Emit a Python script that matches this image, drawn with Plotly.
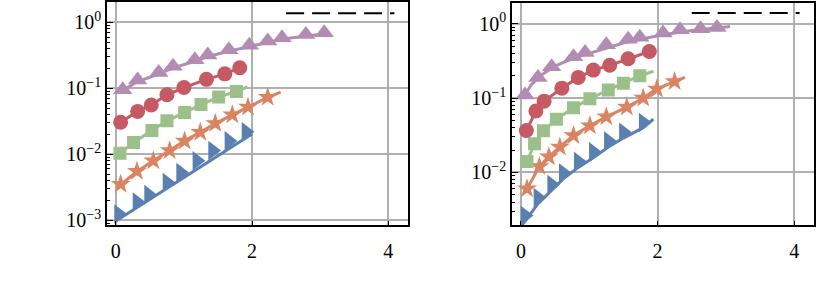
import plotly.graph_objects as go

# ---------------- data ----------------
# Left panel
L_blue_line_x = [0.0, 0.5, 1.0, 1.5, 2.0]
L_blue_line_y = [0.00098, 0.00209, 0.00447, 0.00955, 0.0204]
L_blue_x = [0.04, 0.31, 0.48, 0.75, 0.95, 1.19, 1.42, 1.66, 1.91]
L_blue_y = [0.00125, 0.00189, 0.00245, 0.00375, 0.0053, 0.0080, 0.0114, 0.0160, 0.0220]

L_orange_line_x = [0.06, 0.31, 0.55, 0.79, 1.01, 1.24, 1.46, 1.71, 1.94, 2.23, 2.42]
L_orange_line_y = [0.0034, 0.0055, 0.0080, 0.0114, 0.0160, 0.0217, 0.0295, 0.0397, 0.0521, 0.0733, 0.088]
L_orange_x = [0.07, 0.31, 0.55, 0.79, 1.01, 1.24, 1.46, 1.71, 1.94, 2.23]
L_orange_y = [0.00353, 0.00556, 0.0080, 0.0114, 0.0160, 0.0217, 0.0295, 0.0397, 0.0521, 0.0733]

L_green_line_x = [0.06, 0.26, 0.53, 0.75, 1.01, 1.25, 1.51, 1.77, 1.93]
L_green_line_y = [0.0104, 0.0151, 0.023, 0.0323, 0.043, 0.057, 0.074, 0.090, 0.105]
L_green_x = [0.06, 0.26, 0.53, 0.75, 1.01, 1.25, 1.51, 1.77]
L_green_y = [0.0104, 0.0151, 0.023, 0.0323, 0.043, 0.057, 0.074, 0.090]

L_red_line_x = [0.07, 0.32, 0.52, 0.75, 1.00, 1.33, 1.60, 1.82, 1.90]
L_red_line_y = [0.0306, 0.0448, 0.056, 0.080, 0.103, 0.137, 0.166, 0.206, 0.222]
L_red_x = [0.07, 0.32, 0.52, 0.75, 1.00, 1.33, 1.60, 1.82]
L_red_y = [0.0306, 0.0448, 0.056, 0.080, 0.103, 0.137, 0.166, 0.206]

L_purple_line_x = [0.08, 0.32, 0.63, 0.84, 1.16, 1.35, 1.66, 1.96, 2.23, 2.44, 2.79, 3.12]
L_purple_line_y = [0.090, 0.127, 0.165, 0.205, 0.258, 0.305, 0.366, 0.43, 0.497, 0.557, 0.625, 0.68]
L_purple_x = [0.10, 0.32, 0.63, 0.84, 1.16, 1.35, 1.66, 1.96, 2.23, 2.44, 2.79, 3.06]
L_purple_y = [0.095, 0.134, 0.174, 0.216, 0.271, 0.321, 0.385, 0.452, 0.523, 0.586, 0.657, 0.695]

L_dash_x = [2.50, 4.09]
L_dash_y = [1.38, 1.38]

# Right panel
R_blue_line_x = [0.0, 0.06, 0.25, 0.45, 0.62, 0.84, 1.06, 1.28, 1.50, 1.79, 1.94]
R_blue_line_y = [0.0019, 0.0022, 0.0038, 0.0057, 0.0082, 0.0117, 0.0158, 0.022, 0.029, 0.040, 0.052]
R_blue_x = [0.06, 0.25, 0.45, 0.62, 0.84, 1.06, 1.28, 1.50, 1.79]
R_blue_y = [0.00263, 0.00458, 0.00689, 0.0098, 0.0140, 0.0189, 0.0264, 0.0347, 0.047]

R_orange_line_x = [0.05, 0.09, 0.27, 0.41, 0.57, 0.77, 1.01, 1.25, 1.55, 1.79, 1.99, 2.25, 2.40]
R_orange_line_y = [0.0055, 0.0060, 0.0120, 0.0163, 0.0220, 0.0314, 0.0426, 0.056, 0.0757, 0.100, 0.133, 0.167, 0.190]
R_orange_x = [0.09, 0.27, 0.41, 0.57, 0.77, 1.01, 1.25, 1.55, 1.79, 1.99, 2.25]
R_orange_y = [0.00603, 0.0120, 0.0163, 0.0220, 0.0314, 0.0426, 0.056, 0.0757, 0.100, 0.133, 0.167]

R_green_line_x = [0.09, 0.20, 0.33, 0.52, 0.77, 1.01, 1.28, 1.50, 1.74, 1.94]
R_green_line_y = [0.0140, 0.0243, 0.0365, 0.052, 0.074, 0.098, 0.129, 0.158, 0.200, 0.230]
R_green_x = [0.09, 0.20, 0.33, 0.52, 0.77, 1.01, 1.28, 1.50, 1.74]
R_green_y = [0.0140, 0.0243, 0.0365, 0.052, 0.074, 0.098, 0.129, 0.158, 0.200]

R_red_line_x = [0.08, 0.22, 0.34, 0.60, 0.84, 1.06, 1.30, 1.57, 1.88]
R_red_line_y = [0.0366, 0.067, 0.091, 0.136, 0.190, 0.238, 0.276, 0.338, 0.423]
R_red_x = [0.08, 0.22, 0.34, 0.60, 0.84, 1.06, 1.30, 1.57, 1.88]
R_red_y = [0.0366, 0.067, 0.091, 0.136, 0.190, 0.238, 0.276, 0.338, 0.423]

R_purple_line_x = [0.03, 0.15, 0.30, 0.50, 0.77, 1.00, 1.25, 1.50, 1.75, 2.08, 2.50, 3.06]
R_purple_line_y = [0.100, 0.150, 0.205, 0.270, 0.345, 0.40, 0.47, 0.55, 0.62, 0.71, 0.81, 0.92]
R_purple_x = [0.06, 0.25, 0.45, 0.77, 0.94, 1.25, 1.57, 1.74, 2.08, 2.33, 2.63, 2.87]
R_purple_y = [0.11, 0.19, 0.265, 0.36, 0.41, 0.52, 0.62, 0.66, 0.75, 0.83, 0.86, 0.89]

R_dash_x = [2.50, 4.08]
R_dash_y = [1.40, 1.40]

x_ticks = [0, 2, 4]
x_ticktext = ["0", "2", "4"]
L_y_ticks = [1e-3, 1e-2, 1e-1, 1e0]
L_y_ticktext = ["10<sup>−3</sup>", "10<sup>−2</sup>", "10<sup>−1</sup>", "10<sup>0</sup>"]
R_y_ticks = [1e-2, 1e-1, 1e0]
R_y_ticktext = ["10<sup>−2</sup>", "10<sup>−1</sup>", "10<sup>0</sup>"]

# ---------------- styling ----------------
C_BLUE = "#5a80b2"
C_ORANGE = "#da8462"
C_GREEN = "#9cc08a"
C_RED = "#c55a64"
C_PURPLE = "#b28cb2"
FONT = "Liberation Serif"

fig = go.Figure()

def add_series(lx, ly, mx, my, color, symbol, size, xa, ya):
    fig.add_trace(go.Scatter(x=lx, y=ly, mode="lines", line=dict(color=color, width=3),
                             xaxis=xa, yaxis=ya, showlegend=False, hoverinfo="skip"))
    fig.add_trace(go.Scatter(x=mx, y=my, mode="markers",
                             marker=dict(color=color, symbol=symbol, size=size, line=dict(width=0)),
                             xaxis=xa, yaxis=ya, showlegend=False))

panels = [
    ("x", "y", [
        (L_blue_line_x, L_blue_line_y, L_blue_x, L_blue_y, C_BLUE, "triangle-right", 17),
        (L_orange_line_x, L_orange_line_y, L_orange_x, L_orange_y, C_ORANGE, "star", 15),
        (L_green_line_x, L_green_line_y, L_green_x, L_green_y, C_GREEN, "square", 13),
        (L_red_line_x, L_red_line_y, L_red_x, L_red_y, C_RED, "circle", 15),
        (L_purple_line_x, L_purple_line_y, L_purple_x, L_purple_y, C_PURPLE, "triangle-up", 17),
    ], L_dash_x, L_dash_y),
    ("x2", "y2", [
        (R_blue_line_x, R_blue_line_y, R_blue_x, R_blue_y, C_BLUE, "triangle-right", 17),
        (R_orange_line_x, R_orange_line_y, R_orange_x, R_orange_y, C_ORANGE, "star", 15),
        (R_green_line_x, R_green_line_y, R_green_x, R_green_y, C_GREEN, "square", 13),
        (R_red_line_x, R_red_line_y, R_red_x, R_red_y, C_RED, "circle", 15),
        (R_purple_line_x, R_purple_line_y, R_purple_x, R_purple_y, C_PURPLE, "triangle-up", 17),
    ], R_dash_x, R_dash_y),
]

for xa, ya, series, dx, dy in panels:
    for s in series:
        add_series(*s, xa, ya)
    fig.add_trace(go.Scatter(x=dx, y=dy, mode="lines",
                             line=dict(color="black", width=2, dash="18px,8px"),
                             xaxis=xa, yaxis=ya, showlegend=False))

minor_vals = [m * 10.0 ** e for e in range(-4, 2) for m in range(2, 10)]

common_x = dict(range=[-0.13, 4.29], tickmode="array", tickvals=x_ticks, ticktext=x_ticktext,
                showgrid=True, gridcolor="#b0b0b0", gridwidth=1.5, zeroline=False,
                showline=True, linecolor="black", linewidth=1.6, mirror=True,
                ticks="inside", ticklen=4, tickcolor="black", tickwidth=1,
                ticklabelstandoff=7,
                tickfont=dict(family=FONT, size=20, color="black"))
common_y = dict(type="log", showgrid=True, gridcolor="#b0b0b0", gridwidth=1.5, zeroline=False,
                showline=True, linecolor="black", linewidth=1.6, mirror=True,
                ticks="inside", ticklen=6, tickcolor="black", tickwidth=1,
                tickfont=dict(family=FONT, size=20, color="black"),
                minor=dict(tickmode="array", tickvals=minor_vals, ticks="inside", ticklen=3.5,
                           tickcolor="black", tickwidth=1, showgrid=False))

fig.update_layout(
    width=822, height=289,
    margin=dict(l=0, r=0, t=0, b=0),
    paper_bgcolor="white", plot_bgcolor="white",
    xaxis=dict(domain=[107 / 822, 408 / 822], anchor="y", **common_x),
    yaxis=dict(domain=[1 - 230 / 289, 1 - 2 / 289], anchor="x",
               range=[-3.074, 0.31], tickmode="array", tickvals=L_y_ticks, ticktext=L_y_ticktext,
               **common_y),
    xaxis2=dict(domain=[512 / 822, 814 / 822], anchor="y2", **common_x),
    yaxis2=dict(domain=[1 - 230 / 289, 1 - 3 / 289], anchor="x2",
                range=[-2.71, 0.28], tickmode="array", tickvals=R_y_ticks, ticktext=R_y_ticktext,
                **common_y),
)

fig.write_html("out.html", config={"displayModeBar": False},
               post_script="document.body.style.margin='0px';")
